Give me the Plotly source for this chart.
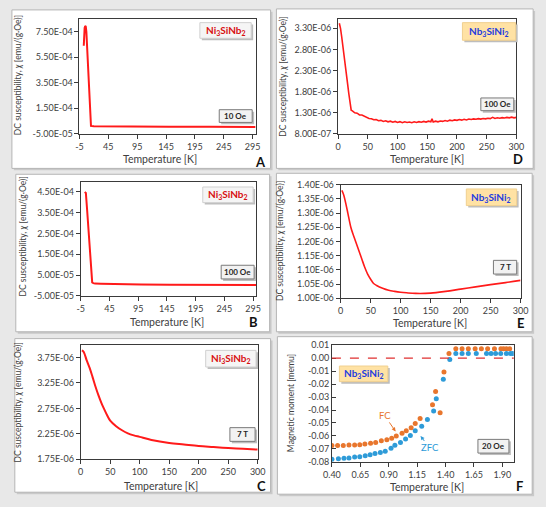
import plotly.graph_objects as go

W, H = 546, 507

# ---------------- data ----------------
# Panel A: Ni3SiNb2, 10 Oe
A_T = [2.5, 3, 4, 5, 6, 7, 8, 9, 10, 11, 12, 13, 14, 15, 20, 40, 80, 150, 220, 300]
A_chi = [6.4e-4, 7.2e-4, 7.8e-4, 7.95e-4, 7.9e-4, 7.5e-4, 6.5e-4, 5.2e-4, 4.0e-4, 2.9e-4,
         1.9e-4, 9e-5, 2.5e-5, 1.2e-5, 9e-6, 8e-6, 7e-6, 6e-6, 5e-6, 4.5e-6]

# Panel B: Ni3SiNb2, 100 Oe
B_T = [2, 4, 6, 8, 10, 12, 14, 15, 17, 20, 30, 50, 100, 150, 200, 250, 300]
B_chi = [4.5e-4, 4.45e-4, 3.7e-4, 2.9e-4, 2.1e-4, 1.3e-4, 5e-5, 1.5e-5, 1.1e-5, 9e-6,
         8e-6, 6.5e-6, 5e-6, 4e-6, 3.5e-6, 3e-6, 2.5e-6]

# Panel C: Ni3SiNb2, 7 T  (values in 1e-6)
C_T = [2, 5, 10, 15, 20, 25, 30, 35, 40, 45, 50, 60, 70, 80, 90, 100, 120, 150, 175, 200,
       225, 250, 275, 300]
C_chi_e6 = [3.89, 3.86, 3.70, 3.55, 3.37, 3.18, 3.01, 2.86, 2.73, 2.61, 2.51, 2.40, 2.32,
            2.26, 2.22, 2.19, 2.13, 2.07, 2.04, 2.01, 1.99, 1.97, 1.955, 1.94]

# Panel D: Nb3SiNi2, 100 Oe (values in 1e-6)
D_T = [2, 4, 6, 8, 10, 12, 14, 16, 18, 20, 22,
       24, 28, 32, 36, 40, 44, 48, 52, 56, 60, 64, 68, 72, 76, 80, 84, 88, 92, 96, 100,
       104, 108, 112, 116, 120, 124, 128, 132, 136, 140, 144, 148, 152, 156, 158, 160,
       164, 168, 172, 176, 180, 184, 188, 192, 196, 200, 204, 208, 212, 216, 220, 224,
       228, 232, 236, 240, 244, 248, 252, 256, 260, 264, 268, 272, 276, 280, 284, 288,
       292, 296, 300]
D_chi_e6 = [3.42, 3.30, 3.10, 2.90, 2.70, 2.45, 2.22, 1.98, 1.75, 1.52, 1.36,
            1.345, 1.30, 1.29, 1.25, 1.245, 1.215, 1.20, 1.165, 1.16, 1.135, 1.14, 1.11,
            1.12, 1.095, 1.11, 1.085, 1.10, 1.075, 1.095, 1.07, 1.09, 1.065, 1.085, 1.07,
            1.08, 1.065, 1.085, 1.07, 1.09, 1.075, 1.095, 1.08, 1.10, 1.085, 1.16, 1.08,
            1.10, 1.085, 1.105, 1.095, 1.115, 1.10, 1.125, 1.11, 1.13, 1.12, 1.14, 1.125,
            1.145, 1.13, 1.15, 1.14, 1.155, 1.145, 1.16, 1.15, 1.165, 1.155, 1.17, 1.16,
            1.19, 1.165, 1.18, 1.17, 1.185, 1.175, 1.19, 1.18, 1.195, 1.18, 1.19]

# Panel E: Nb3SiNi2, 7 T (values in 1e-6)
E_T = [2, 5, 10, 12, 17, 20, 25, 30, 35, 40, 45, 50, 55, 60, 70, 80, 90, 100, 110, 125,
       150, 175, 200, 225, 250, 275, 300]
E_chi_e6 = [1.38, 1.365, 1.32, 1.30, 1.25, 1.23, 1.20, 1.17, 1.14, 1.11, 1.085, 1.067,
            1.052, 1.045, 1.035, 1.028, 1.024, 1.021, 1.019, 1.017, 1.018, 1.024, 1.032,
            1.040, 1.048, 1.055, 1.063]

# Panel F: Nb3SiNi2, 20 Oe magnetic moment [memu]
FC_T = [0.40, 0.45, 0.50, 0.55, 0.60, 0.645, 0.69, 0.74, 0.785, 0.835, 0.883, 0.926, 0.966,
        1.017, 1.054, 1.097, 1.133, 1.176, 1.285, 1.312, 1.352, 1.386, 1.43, 1.49, 1.545,
        1.60, 1.66, 1.715, 1.77, 1.83, 1.887, 1.91, 1.935, 1.964]
FC_m = [-0.0674, -0.0674, -0.0674, -0.067, -0.067, -0.0667, -0.0662, -0.0657, -0.065,
        -0.0637, -0.063, -0.0617, -0.060, -0.058, -0.056, -0.0536, -0.0503, -0.0465,
        -0.036, -0.0258, -0.0422, -0.0106, 0.0035, 0.0073, 0.0073, 0.0073, 0.0073, 0.0073,
        0.0073, 0.0073, 0.0073, 0.0073, 0.0073, 0.0073]
ZFC_T = [0.40, 0.457, 0.506, 0.55, 0.60, 0.645, 0.693, 0.736, 0.779, 0.826, 0.869, 0.92,
         0.954, 1.003, 1.048, 1.09, 1.133, 1.19, 1.24, 1.295, 1.318, 1.38, 1.437, 1.49,
         1.545, 1.60, 1.67, 1.76, 1.80, 1.84, 1.885, 1.935, 1.97, 1.99]
ZFC_m = [-0.078, -0.0776, -0.0772, -0.077, -0.0763, -0.076, -0.0753, -0.0745, -0.0735,
         -0.0727, -0.0717, -0.0695, -0.0672, -0.065, -0.0624, -0.0596, -0.056, -0.0525,
         -0.0473, -0.0407, -0.0313, -0.0162, -0.001, 0.0035, 0.0035, 0.0035, 0.0035,
         0.0035, 0.0035, 0.0035, 0.0035, 0.0035, 0.0035, 0.0035]

# tick values
AB_xticks = [-5, 45, 95, 145, 195, 245, 295]
T300_xticks = [0, 50, 100, 150, 200, 250, 300]
F_xticks = [0.40, 0.65, 0.90, 1.15, 1.40, 1.65, 1.90]
A_yticks = [-5e-5, 1.5e-4, 3.5e-4, 5.5e-4, 7.5e-4]
B_yticks = [-5e-5, 5e-5, 1.5e-4, 2.5e-4, 3.5e-4, 4.5e-4]
C_yticks = [1.75e-6, 2.25e-6, 2.75e-6, 3.25e-6, 3.75e-6]
D_yticks = [8e-7, 1.3e-6, 1.8e-6, 2.3e-6, 2.8e-6, 3.3e-6]
E_yticks = [1.00e-6, 1.05e-6, 1.10e-6, 1.15e-6, 1.20e-6, 1.25e-6, 1.30e-6, 1.35e-6, 1.40e-6]
F_yticks = [0.01, 0.0, -0.01, -0.02, -0.03, -0.04, -0.05, -0.06, -0.07, -0.08]

# ---------------- helpers ----------------
FONT = "Lato"
TXT = "#404040"
RED = "#FF1A1A"
TICKSIZE = 9


def pxx(x):
    return x / W


def pyy(y):
    return 1 - y / H


def sci(v):
    return f"{v:.2E}"


fig = go.Figure()

panels = [
    dict(k="", xd=(72.7, 254.5), yd=(13.3, 130.7), xr=[-5, 300], yr=[-5e-5, 8.5e-4],
         xt=AB_xticks, xf=str, yt=A_yticks, yf=sci, yin=False),
    dict(k="2", xd=(74, 255), yd=(179.4, 296.3), xr=[-5, 300], yr=[-5e-5, 5.0e-4],
         xt=AB_xticks, xf=str, yt=B_yticks, yf=sci, yin=False),
    dict(k="3", xd=(74, 256.7), yd=(346.3, 463.3), xr=[0, 300], yr=[1.75e-6, 4.0e-6],
         xt=T300_xticks, xf=str, yt=C_yticks, yf=sci, yin=False),
    dict(k="4", xd=(339.7, 523.7), yd=(13.3, 130.7), xr=[0, 300], yr=[8e-7, 3.52e-6],
         xt=T300_xticks, xf=str, yt=D_yticks, yf=sci, yin=False),
    dict(k="5", xd=(342.3, 528), yd=(182.7, 298.7), xr=[0, 300], yr=[1.0e-6, 1.4e-6],
         xt=T300_xticks, xf=str, yt=E_yticks, yf=sci, yin=False),
    dict(k="6", xd=(333.3, 521.0), yd=(346.7, 466), xr=[0.4, 2.0], yr=[-0.08, 0.01],
         xt=F_xticks, xf=lambda v: f"{v:.2f}", yt=F_yticks, yf=lambda v: f"{v:.2f}", yin=True),
]

for p in panels:
    k = p["k"]
    xa = dict(domain=[pxx(p["xd"][0]), pxx(p["xd"][1])], range=p["xr"],
              anchor="y" + k, tickmode="array", tickvals=p["xt"],
              ticktext=[p["xf"](v) for v in p["xt"]],
              showline=True, mirror=True, linecolor="#3a3a3a", linewidth=1,
              ticks="outside", ticklen=4, tickcolor="#3a3a3a", showgrid=False,
              zeroline=False, tickfont=dict(family=FONT, size=TICKSIZE, color=TXT))
    ya = dict(domain=[pyy(p["yd"][1]), pyy(p["yd"][0])], range=p["yr"],
              anchor="x" + k, tickmode="array", tickvals=p["yt"],
              ticktext=[p["yf"](v) for v in p["yt"]],
              showline=True, mirror=True, linecolor="#3a3a3a", linewidth=1,
              ticks="inside" if p["yin"] else "outside", ticklen=4, tickcolor="#3a3a3a",
              showgrid=False, zeroline=False,
              tickfont=dict(family=FONT, size=TICKSIZE, color=TXT))
    fig.update_layout(**{"xaxis" + k: xa, "yaxis" + k: ya})

# traces
fig.add_trace(go.Scatter(x=A_T, y=A_chi, mode="lines", line=dict(color=RED, width=2),
                         xaxis="x", yaxis="y"))
fig.add_trace(go.Scatter(x=B_T, y=B_chi, mode="lines", line=dict(color=RED, width=2),
                         xaxis="x2", yaxis="y2"))
fig.add_trace(go.Scatter(x=C_T, y=[v * 1e-6 for v in C_chi_e6], mode="lines",
                         line=dict(color=RED, width=2, shape="spline"), xaxis="x3", yaxis="y3"))
fig.add_trace(go.Scatter(x=D_T, y=[v * 1e-6 for v in D_chi_e6], mode="lines",
                         line=dict(color=RED, width=1.6), xaxis="x4", yaxis="y4"))
fig.add_trace(go.Scatter(x=E_T, y=[v * 1e-6 for v in E_chi_e6], mode="lines",
                         line=dict(color=RED, width=1.6, shape="spline"), xaxis="x5", yaxis="y5"))
fig.add_trace(go.Scatter(x=FC_T, y=FC_m, mode="markers",
                         marker=dict(color="#E8762D", size=5), xaxis="x6", yaxis="y6"))
fig.add_trace(go.Scatter(x=ZFC_T, y=ZFC_m, mode="markers",
                         marker=dict(color="#2E9BD8", size=5), xaxis="x6", yaxis="y6"))

shapes = []
annotations = []

# panel frames (with soft shadow)
frames = [(3, 4, 270, 166), (7, 172, 269, 333), (6, 340, 270, 497),
          (276, 3, 541, 166), (276, 171, 540, 333), (277, 338, 540, 499)]
for (x0, y0, x1, y1) in frames:
    shapes.append(dict(type="rect", xref="paper", yref="paper", layer="below",
                       x0=pxx(x0 + 2), x1=pxx(x1 + 2), y0=pyy(y1 + 2), y1=pyy(y0 + 2),
                       fillcolor="#c9c9c9", line=dict(width=0)))
    shapes.append(dict(type="rect", xref="paper", yref="paper", layer="below",
                       x0=pxx(x0), x1=pxx(x1), y0=pyy(y1), y1=pyy(y0),
                       fillcolor="white", line=dict(color="#b5b5b5", width=1)))

# dashed zero line in F
shapes.append(dict(type="line", xref="x6 domain", yref="y6", x0=0, x1=1, y0=0, y1=0,
                   line=dict(color="#E03030", width=1.3, dash="dash")))


def box(x0, y0, x1, y1, fill, border, text, color, size):
    shapes.append(dict(type="rect", xref="paper", yref="paper",
                       x0=pxx(x0 + 2), x1=pxx(x1 + 2), y0=pyy(y1 + 2), y1=pyy(y0 + 2),
                       fillcolor="#bdbdbd", line=dict(width=0)))
    shapes.append(dict(type="rect", xref="paper", yref="paper",
                       x0=pxx(x0), x1=pxx(x1), y0=pyy(y1), y1=pyy(y0),
                       fillcolor=fill, line=dict(color=border, width=1)))
    annotations.append(dict(xref="paper", yref="paper", x=pxx((x0 + x1) / 2),
                            y=pyy((y0 + y1) / 2), text=text, showarrow=False,
                            xanchor="center", yanchor="middle",
                            font=dict(family=FONT, size=size, color=color)))


NI = "<b>Ni<sub>3</sub>SiNb<sub>2</sub></b>"
NB = "<b>Nb<sub>3</sub>SiNi<sub>2</sub></b>"
NI_FILL, NI_BORDER, NI_COL = "#f5f5f5", "#d0d0d0", "#D81010"
NB_FILL, NB_BORDER, NB_COL = "#FFE2A4", "#f0d090", "#1E3CE0"
F_FILL, F_BORDER, F_COL = "#f2f2f2", "#7a7a7a", "#262626"

box(197, 17, 250, 33, NI_FILL, NI_BORDER, NI, NI_COL, 10)
box(200, 185, 252, 201, NI_FILL, NI_BORDER, NI, NI_COL, 10)
box(203, 352, 255, 369, NI_FILL, NI_BORDER, NI, NI_COL, 10)
box(468, 17, 523, 35, NB_FILL, NB_BORDER, NB, NB_COL, 10)
box(472, 187, 524, 204, NB_FILL, NB_BORDER, NB, NB_COL, 10)
box(341, 368, 391, 384, NB_FILL, NB_BORDER, NB, NB_COL, 10)

box(217, 106, 251, 119, F_FILL, F_BORDER, "<b>10 Oe</b>", F_COL, 8)
box(487, 94, 521, 107, F_FILL, F_BORDER, "<b>100 Oe</b>", F_COL, 8)
box(219, 265, 253, 279, F_FILL, F_BORDER, "<b>100 Oe</b>", F_COL, 8)
box(500, 260, 524, 274, F_FILL, F_BORDER, "<b>7 T</b>", F_COL, 8)
box(228, 431, 254, 445, F_FILL, F_BORDER, "<b>7 T</b>", F_COL, 8)
box(484, 443, 516, 457, F_FILL, F_BORDER, "<b>20 Oe</b>", F_COL, 8)

# axis titles
YT = "DC susceptibility, <i>χ</i> [emu/(g·Oe)]"
ytitles = [(10, 71, YT), (14, 236, YT), (9.5, 405, YT), (283, 72, YT), (280, 240, YT),
           (291, 406, "Magnetic moment [memu]")]
for (x, y, t) in ytitles:
    annotations.append(dict(xref="paper", yref="paper", x=pxx(x), y=pyy(y), text=t,
                            textangle=-90, showarrow=False, xanchor="center",
                            yanchor="middle", font=dict(family=FONT, size=8.5, color=TXT)))
xtitles = [(156, 156), (163, 323), (157, 491), (431, 156.5), (435, 324), (431, 492)]
for (x, y) in xtitles:
    annotations.append(dict(xref="paper", yref="paper", x=pxx(x), y=pyy(y),
                            text="Temperature [K]", showarrow=False, xanchor="center",
                            yanchor="middle", font=dict(family=FONT, size=10.5, color=TXT)))

# panel letters
letters = [("A", 260, 159), ("B", 252, 323), ("C", 261, 491), ("D", 525, 156),
           ("E", 528, 324), ("F", 527, 491)]
for (t, x, y) in letters:
    annotations.append(dict(xref="paper", yref="paper", x=pxx(x), y=pyy(y),
                            text="<b>" + t + "</b>", showarrow=False, xanchor="center",
                            yanchor="middle", font=dict(family=FONT, size=13, color="#111111")))

# FC / ZFC labels with arrows
annotations.append(dict(xref="x6", yref="y6", x=0.96, y=-0.0565, ax=-11, ay=-16,
                        text="FC", showarrow=True, arrowhead=2, arrowsize=0.8,
                        arrowwidth=1, arrowcolor="#E8762D",
                        font=dict(family=FONT, size=9.5, color="#E8762D")))
annotations.append(dict(xref="x6", yref="y6", x=1.18, y=-0.060, ax=9, ay=12,
                        text="ZFC", showarrow=True, arrowhead=2, arrowsize=0.8,
                        arrowwidth=1, arrowcolor="#2E9BD8",
                        font=dict(family=FONT, size=9.5, color="#2E9BD8")))

fig.update_layout(width=W, height=H, margin=dict(l=0, r=0, t=0, b=0),
                  paper_bgcolor="#e8e8e8", plot_bgcolor="white", showlegend=False,
                  shapes=shapes, annotations=annotations)

fig.write_html("out.html")
